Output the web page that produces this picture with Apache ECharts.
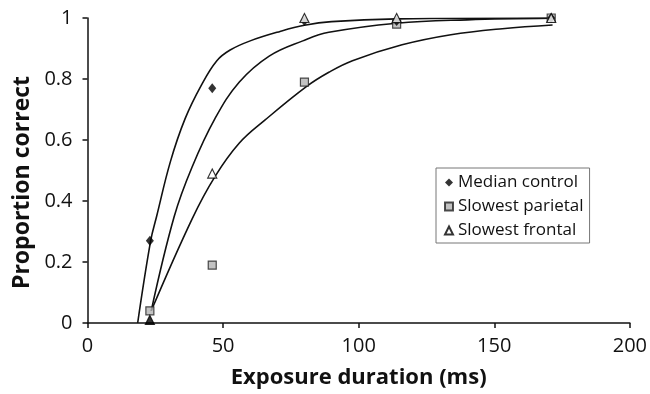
<!DOCTYPE html>
<html>
<head>
<meta charset="utf-8">
<script src="https://cdn.jsdelivr.net/npm/echarts@6/dist/echarts.min.js"></script>
<style>
  html, body { margin: 0; padding: 0; background: #fff; }
  #chart { width: 650px; height: 394px; }
</style>
</head>
<body>
<div id="chart"></div>
<script>
// exposure durations (ms) where proportions were measured
const durations = [23, 46, 80, 114, 171];
const medianControl = [0.27, 0.77, 0.99, 0.99, 1.0];
const slowestParietal = [0.04, 0.19, 0.79, 0.98, 1.0];
const slowestFrontal = [0.01, 0.49, 1.0, 1.0, 1.0];

// fitted curves as [ms, proportion]
const fitMedian = [[18.5, 0], [23.3, 0.27], [25.5, 0.35], [30.6, 0.53], [36, 0.67], [42, 0.78], [47.7, 0.86], [52.6, 0.895], [60, 0.925], [71, 0.956], [80, 0.976], [90, 0.988], [114, 0.997], [171, 1.0]];
const fitFrontal = [[23.5, 0.04], [32, 0.35], [38.5, 0.51], [47, 0.67], [56, 0.79], [67, 0.875], [79.4, 0.925], [89, 0.953], [114, 0.983], [140, 0.994], [171, 0.999]];
const fitParietal = [[23.5, 0.04], [38.5, 0.34], [47, 0.48], [56, 0.59], [65.4, 0.665], [80.7, 0.775], [89, 0.822], [97.7, 0.86], [116, 0.912], [134, 0.945], [153, 0.965], [171.5, 0.977]];

const seriesNames = ['Median control', 'Slowest parietal', 'Slowest frontal'];
const yTicks = [0, 0.2, 0.4, 0.6, 0.8, 1];
const xTicks = [0, 50, 100, 150, 200];

const font = '"Open Sans", "Noto Sans", sans-serif';
const pair = (vals) => durations.map((d, i) => [d, vals[i]]);

const curve = (pts) => ({
  type: 'line',
  data: pts,
  smooth: 0.4,
  showSymbol: false,
  symbol: 'none',
  silent: true,
  lineStyle: { color: '#111', width: 1.6 },
  z: 2
});

const chart = echarts.init(document.getElementById('chart'), null, { renderer: 'canvas' });

chart.setOption({
  animation: false,
  backgroundColor: '#fff',
  grid: { left: 87.5, right: 17.5, top: 18, bottom: 69 },
  legend: {
    data: seriesNames,
    orient: 'vertical',
    left: 436,
    top: 168,
    padding: [6, 6, 4, 8],
    itemGap: 7,
    itemWidth: 8,
    itemHeight: 8,
    borderColor: '#777',
    borderWidth: 1,
    textStyle: { fontFamily: font, fontSize: 17, color: '#111', lineHeight: 17 }
  },
  xAxis: {
    type: 'value',
    min: 0, max: 200, interval: 50,
    name: 'Exposure duration (ms)',
    nameLocation: 'middle',
    nameGap: 44,
    nameTextStyle: { fontFamily: font, fontSize: 22, fontWeight: 'bold', color: '#111' },
    axisLine: { onZero: false, lineStyle: { color: '#111', width: 1.5 } },
    axisTick: { show: true, length: 5, inside: false, lineStyle: { color: '#111', width: 1.5 } },
    axisLabel: {
      fontFamily: font, fontSize: 20, color: '#111', margin: 13,
      formatter: (v) => xTicks.includes(v) ? String(v) : ''
    },
    splitLine: { show: false }
  },
  yAxis: {
    type: 'value',
    min: 0, max: 1, interval: 0.2,
    name: 'Proportion correct',
    nameLocation: 'middle',
    nameGap: 54,
    nameTextStyle: { fontFamily: font, fontSize: 23, fontWeight: 'bold', color: '#111', padding: [0, 24, 0, 0] },
    axisLine: { show: true, lineStyle: { color: '#111', width: 1.5 } },
    axisTick: { show: true, length: 5, lineStyle: { color: '#111', width: 1.5 } },
    axisLabel: {
      fontFamily: font, fontSize: 20, color: '#111', margin: 15,
      formatter: (v) => {
        const t = yTicks.find((k) => Math.abs(k - v) < 1e-6);
        return t === undefined ? '' : String(t);
      }
    },
    splitLine: { show: false }
  },
  series: [
    curve(fitMedian),
    curve(fitFrontal),
    curve(fitParietal),
    {
      name: seriesNames[0],
      type: 'scatter',
      data: pair(medianControl),
      symbol: 'diamond',
      symbolSize: [8, 10],
      itemStyle: { color: '#000' },
      z: 4
    },
    {
      name: seriesNames[1],
      type: 'scatter',
      data: pair(slowestParietal),
      symbol: 'rect',
      symbolSize: 8,
      itemStyle: { color: '#b4b4b4', borderColor: '#222', borderWidth: 1.2 },
      z: 3
    },
    {
      name: seriesNames[2],
      type: 'scatter',
      data: pair(slowestFrontal).map((p, i) => i === 0 ? { value: p, itemStyle: { color: '#000' } } : p),
      symbol: 'triangle',
      symbolSize: 9,
      itemStyle: { color: '#fff', borderColor: '#000', borderWidth: 1.2 },
      z: 5
    }
  ]
});
</script>
</body>
</html>
